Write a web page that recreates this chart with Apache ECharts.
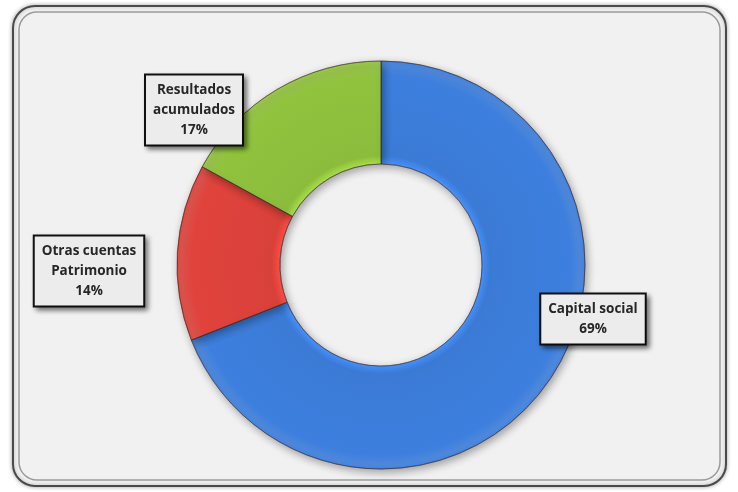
<!DOCTYPE html>
<html><head><meta charset="utf-8">
<script src="https://cdn.jsdelivr.net/npm/echarts@6/dist/echarts.min.js"></script>
<style>html,body{margin:0;padding:0;background:#fff}#c{width:738px;height:492px}</style>
</head><body><div id="c"></div>
<script>
const categories = ['Capital social', 'Otras cuentas Patrimonio', 'Resultados acumulados'];
const labelTexts = ['Capital social', 'Otras cuentas\nPatrimonio', 'Resultados\nacumulados'];
const values = [69, 14, 17];
const colors = ['#3b7bd6', '#d8413a', '#8cbc3c'];
const labelSpots = [[593, 319], [89, 271], [194, 110]];

const CX = 381, CY = 265, R_IN = 101, R_OUT = 204;
const chart = echarts.init(document.getElementById('c'));
function grad(c){
  const k = R_IN / R_OUT;
  return new echarts.graphic.RadialGradient(CX, CY, R_OUT, [
    {offset: 0, color: echarts.color.lift(c, -0.2)},
    {offset: k, color: echarts.color.lift(c, -0.2)},
    {offset: k + 0.04, color: c},
    {offset: 0.93, color: echarts.color.lift(c, -0.04)},
    {offset: 0.98, color: echarts.color.lift(c, 0.1)},
    {offset: 1, color: echarts.color.lift(c, -0.1)}
  ], true);
}
chart.setOption({
  backgroundColor: '#ffffff',
  graphic: [
    {type:'rect', shape:{x:13,y:6,width:713,height:480,r:22}, style:{fill:'#f3f3f3', stroke:'#4a4a4a', lineWidth:2, shadowBlur:4, shadowColor:'rgba(0,0,0,0.3)'}, z:-10},
    {type:'rect', shape:{x:19,y:12,width:701,height:468,r:18}, style:{fill:'#f1f1f1', stroke:'#9a9a9a', lineWidth:1.5}, z:-9}
  ],
  series: [{
    type: 'pie',
    center: [CX, CY],
    radius: [R_IN, R_OUT],
    startAngle: 90,
    clockwise: true,
    avoidLabelOverlap: false,
    data: categories.map((n, i) => ({name: n, value: values[i], itemStyle: {color: grad(colors[i])}})),
    itemStyle: {borderColor: 'rgba(60,40,40,0.45)', borderWidth: 1, shadowBlur: 8, shadowColor: 'rgba(0,0,0,0.35)', shadowOffsetX: 2, shadowOffsetY: 3},
    label: {
      show: true,
      position: 'outside',
      formatter: p => labelTexts[p.dataIndex] + '\n' + p.value + '%',
      fontFamily: 'Open Sans',
      fontWeight: 'bold',
      fontSize: 13.5,
      lineHeight: 20,
      color: '#262626',
      align: 'center',
      backgroundColor: '#ececec',
      borderColor: '#111',
      borderWidth: 2,
      padding: [5, 7, 4, 7],
      shadowBlur: 5,
      shadowColor: 'rgba(0,0,0,0.45)',
      shadowOffsetX: 3,
      shadowOffsetY: 3
    },
    labelLine: {show: false},
    labelLayout: p => ({x: labelSpots[p.dataIndex][0], y: labelSpots[p.dataIndex][1], align: 'center', verticalAlign: 'middle'}),
    emphasis: {disabled: true}
  }]
});
</script></body></html>
